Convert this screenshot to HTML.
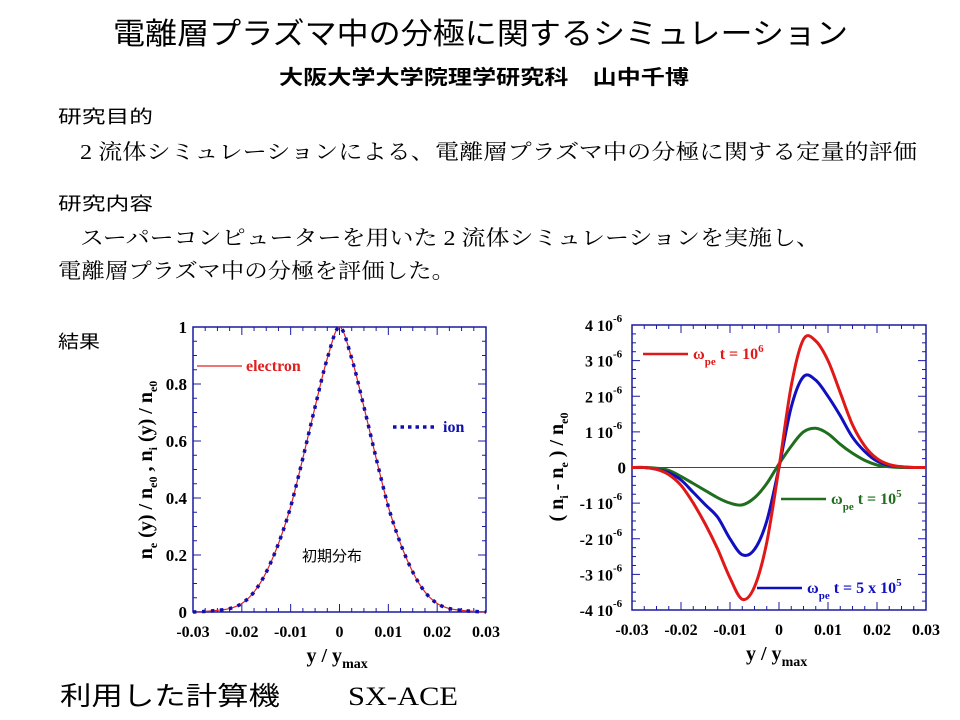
<!DOCTYPE html>
<html><head><meta charset="utf-8"><style>
html,body{margin:0;padding:0;background:#fff;width:960px;height:720px;overflow:hidden}
svg{display:block}
.g{font-family:"Liberation Sans","Noto Sans CJK JP",sans-serif}
.s{font-family:"Liberation Serif","Noto Serif CJK SC",serif}
.t{font-family:"Liberation Serif",serif;font-weight:bold}
</style></head><body>
<svg id="page" width="960" height="720" viewBox="0 0 960 720">
<text class="g" x="113" y="44" font-size="30" textLength="735" lengthAdjust="spacingAndGlyphs">電離層プラズマ中の分極に関するシミュレーション</text>
<text class="g" x="279" y="84" font-size="20" font-weight="bold" textLength="410" lengthAdjust="spacingAndGlyphs">大阪大学大学院理学研究科　山中千博</text>
<text class="g" x="58" y="123" font-size="18" textLength="95" lengthAdjust="spacingAndGlyphs">研究目的</text>
<text class="s" x="80" y="159" font-size="21" textLength="837" lengthAdjust="spacingAndGlyphs">2 流体シミュレーションによる、電離層プラズマ中の分極に関する定量的評価</text>
<text class="g" x="58" y="210" font-size="18" textLength="95" lengthAdjust="spacingAndGlyphs">研究内容</text>
<text class="s" x="80" y="245" font-size="21" textLength="740" lengthAdjust="spacingAndGlyphs">スーパーコンピューターを用いた 2 流体シミュレーションを実施し、</text>
<text class="s" x="58" y="278" font-size="21" textLength="397" lengthAdjust="spacingAndGlyphs">電離層プラズマ中の分極を評価した。</text>
<text class="g" x="58" y="348" font-size="18" textLength="42" lengthAdjust="spacingAndGlyphs">結果</text>
<text class="g" x="60" y="705" font-size="26" textLength="220" lengthAdjust="spacingAndGlyphs">利用した計算機</text>
<text class="s" x="348" y="705" font-size="26" textLength="110" lengthAdjust="spacingAndGlyphs">SX-ACE</text>
<g id="c1"></g>
<g id="c2"></g>
</svg>
<script>
// Left chart data
const xs1 = [-0.03,-0.0275,-0.025,-0.0225,-0.02,-0.0175,-0.015,-0.0125,-0.01,-0.0075,-0.005,-0.0025,0,0.0025,0.005,0.0075,0.01,0.0125,0.015,0.0175,0.02,0.0225,0.025,0.0275,0.03];
const electron = [0,0.002,0.006,0.012,0.03,0.07,0.14,0.24,0.37,0.54,0.72,0.89,1,0.89,0.72,0.54,0.37,0.24,0.14,0.07,0.03,0.012,0.006,0.002,0];
const ion = [0,0.002,0.006,0.012,0.03,0.07,0.14,0.24,0.37,0.54,0.72,0.89,1,0.89,0.72,0.54,0.37,0.24,0.14,0.07,0.03,0.012,0.006,0.002,0];
const xTicks = [-0.03,-0.02,-0.01,0,0.01,0.02,0.03];
const xTickLabels = ["-0.03","-0.02","-0.01","0","0.01","0.02","0.03"];
const yTicks1 = [0,0.2,0.4,0.6,0.8,1];
const yTickLabels1 = ["0","0.2","0.4","0.6","0.8","1"];
// Right chart data
const xs2 = [-0.03,-0.0275,-0.025,-0.0225,-0.02,-0.0175,-0.015,-0.0125,-0.01,-0.0075,-0.005,-0.0025,0,0.0025,0.005,0.0075,0.01,0.0125,0.015,0.0175,0.02,0.0225,0.025,0.0275,0.03];
const redT6 = [0,0,-0.05,-0.2,-0.5,-1.0,-1.6,-2.3,-3.1,-3.7,-3.35,-2.1,0,2.3,3.6,3.55,3.0,2.1,1.2,0.6,0.25,0.08,0.02,0,0];
const blueT5x5 = [0,0,-0.05,-0.15,-0.35,-0.7,-1.05,-1.4,-2.0,-2.45,-2.3,-1.5,0,1.7,2.55,2.45,2.0,1.45,0.85,0.45,0.18,0.06,0.02,0,0];
const greenT5 = [0,0,-0.02,-0.08,-0.25,-0.45,-0.65,-0.85,-1.0,-1.05,-0.85,-0.45,0.1,0.6,1.0,1.1,0.95,0.65,0.4,0.2,0.07,0.02,0,0,0];
const yTicks2 = [-4,-3,-2,-1,0,1,2,3,4];
const yTickLabels2 = ["-4 10","-3 10","-2 10","-1 10","0","1 10","2 10","3 10","4 10"];

const NS="http://www.w3.org/2000/svg";
function mk(parent,tag,attrs){const e=document.createElementNS(NS,tag);for(const k in attrs)e.setAttribute(k,attrs[k]);parent.appendChild(e);return e;}

function frame(g,L,R,T,B,sx,sy,yMin,yMax,yMinor,yt,ytl,sup){
  mk(g,'rect',{x:L,y:T,width:R-L,height:B-T,fill:'none',stroke:'#1a1aa0','stroke-width':1.5});
  for(let k=0;k<=24;k++){const v=-0.03+k*0.0025;const X=sx(v);const major=k%4===0;const len=major?8:4;
    mk(g,'line',{x1:X,y1:B,x2:X,y2:B-len,stroke:'#1a1aa0'});mk(g,'line',{x1:X,y1:T,x2:X,y2:T+len,stroke:'#1a1aa0'});}
  for(let v=yMin;v<=yMax+1e-9;v+=yMinor){const Y=sy(v);const major=yt.some(t=>Math.abs(t-v)<1e-6);const len=major?8:4;
    mk(g,'line',{x1:L,y1:Y,x2:L+len,y2:Y,stroke:'#1a1aa0'});mk(g,'line',{x1:R,y1:Y,x2:R-len,y2:Y,stroke:'#1a1aa0'});}
  xTicks.forEach((v,i)=>{const t=mk(g,'text',{x:sx(v),y:B+25,'text-anchor':'middle','font-size':16,class:'t'});t.textContent=xTickLabels[i];
    
    });
  yt.forEach((v,i)=>{const t=mk(g,'text',{x:L-6,y:sy(v)+6,'text-anchor':'end','font-size':17,class:'t'});
    
    
    t.textContent=ytl[i];
    if(sup&&v!==0){t.setAttribute('x',L-19);t.setAttribute('font-size',16);const s=mk(g,'text',{x:L-19,y:sy(v)-3,'font-size':11,class:'t'});s.textContent='-6';
      
      }
  });
  const xl=mk(g,'text',{x:(L+R)/2-33,y:B+50,'font-size':20,class:'t'});xl.innerHTML='y / y<tspan font-size="14" dy="6">max</tspan>';
  
  
}
function path(g,xs,ys,sx,sy){
  const P=xs.map((x,i)=>[sx(x),sy(ys[i])]);
  let d='M'+P[0][0].toFixed(1)+','+P[0][1].toFixed(1);
  for(let i=0;i<P.length-1;i++){const p0=P[Math.max(0,i-1)],p1=P[i],p2=P[i+1],p3=P[Math.min(P.length-1,i+2)];
    const c1=[p1[0]+(p2[0]-p0[0])/6,p1[1]+(p2[1]-p0[1])/6],c2=[p2[0]-(p3[0]-p1[0])/6,p2[1]-(p3[1]-p1[1])/6];
    d+=' C'+c1.map(v=>v.toFixed(1)).join(',')+' '+c2.map(v=>v.toFixed(1)).join(',')+' '+p2.map(v=>v.toFixed(1)).join(',');}
  return d;}

// Left chart
(function(){
  const g=document.getElementById('c1');const L=193,R=486,T=327,B=612;
  const sx=v=>L+(v+0.03)/0.06*(R-L), sy=v=>B-v*(B-T);
  frame(g,L,R,T,B,sx,sy,0,1,0.05,yTicks1,yTickLabels1,false);
  const e=mk(g,'path',{d:path(g,xs1,electron,sx,sy),fill:'none',stroke:'#e02020','stroke-width':1.2});
  
  
  const i=mk(g,'path',{d:path(g,xs1,ion,sx,sy),fill:'none',stroke:'#1010b0','stroke-width':3.5,'stroke-dasharray':'3.5 5.5'});
  
  
  const yl=mk(g,'text',{transform:'translate(152,470) rotate(-90)','text-anchor':'middle','font-size':20,class:'t'});
  yl.innerHTML='n<tspan font-size="12" dy="5">e</tspan><tspan dy="-5"> (y) / n</tspan><tspan font-size="12" dy="5">e0</tspan><tspan dy="-5">   ,   n</tspan><tspan font-size="12" dy="5">i</tspan><tspan dy="-5"> (y) / n</tspan><tspan font-size="12" dy="5">e0</tspan>';
  
  
  const le=mk(g,'g',{});
  mk(le,'line',{x1:197,y1:366,x2:242,y2:366,stroke:'#e02020','stroke-width':1.2});
  const lt=mk(le,'text',{x:246,y:371,'font-size':16,fill:'#e02020',class:'t'});lt.textContent='electron';
  const li=mk(g,'g',{});
  mk(li,'line',{x1:393,y1:427,x2:437,y2:427,stroke:'#1010b0','stroke-width':3.5,'stroke-dasharray':'3.5 4'});
  const it=mk(li,'text',{x:443,y:432,'font-size':16,fill:'#1010b0',class:'t'});it.textContent='ion';
  const ann=mk(g,'text',{x:302,y:561,'font-size':15,class:'g'});ann.textContent='初期分布';
  
  
})();

// Right chart
(function(){
  const g=document.getElementById('c2');const L=632,R=926,T=325,B=610;
  const sx=v=>L+(v+0.03)/0.06*(R-L), sy=v=>(T+B)/2-v/8*(B-T);
  frame(g,L,R,T,B,sx,sy,-4,4,0.25,yTicks2,yTickLabels2,true);
  mk(g,'line',{x1:L,y1:sy(0),x2:R,y2:sy(0),stroke:'#444','stroke-width':1});
  [[greenT5,'#1e6e1e','line-t1e5'],[blueT5x5,'#1010c0','line-t5e5'],[redT6,'#e01818','line-t1e6']].forEach(([d,c,n])=>{
    const p=mk(g,'path',{d:path(g,xs2,d,sx,sy),fill:'none',stroke:c,'stroke-width':3,'stroke-linejoin':'round'});
    
    
  });
  const yl=mk(g,'text',{transform:'translate(563,467) rotate(-90)','text-anchor':'middle','font-size':20,class:'t'});
  yl.innerHTML='( n<tspan font-size="12" dy="5">i</tspan><tspan dy="-5"> - n</tspan><tspan font-size="12" dy="5">e</tspan><tspan dy="-5"> ) / n</tspan><tspan font-size="12" dy="5">e0</tspan>';
  
  
  function leg(x1,x2,y,c,txt,sup,name){const gg=mk(g,'g',{});
    
    
    mk(gg,'line',{x1:x1,y1:y,x2:x2,y2:y,stroke:c,'stroke-width':2.5});
    const t=mk(gg,'text',{x:x2+5,y:y+5,'font-size':16,fill:c,class:'t'});
    t.innerHTML='ω<tspan font-size="11" dy="6">pe</tspan><tspan dy="-6"> '+txt+'</tspan><tspan font-size="11" dy="-7">'+sup+'</tspan>';}
  leg(643,688,354,'#e01818','t = 10','6','legend-t1e6');
  leg(781,826,499,'#1e6e1e','t = 10','5','legend-t1e5');
  leg(757,802,588,'#1010c0','t = 5 x 10','5','legend-t5e5');
})();
</script>
</body></html>
